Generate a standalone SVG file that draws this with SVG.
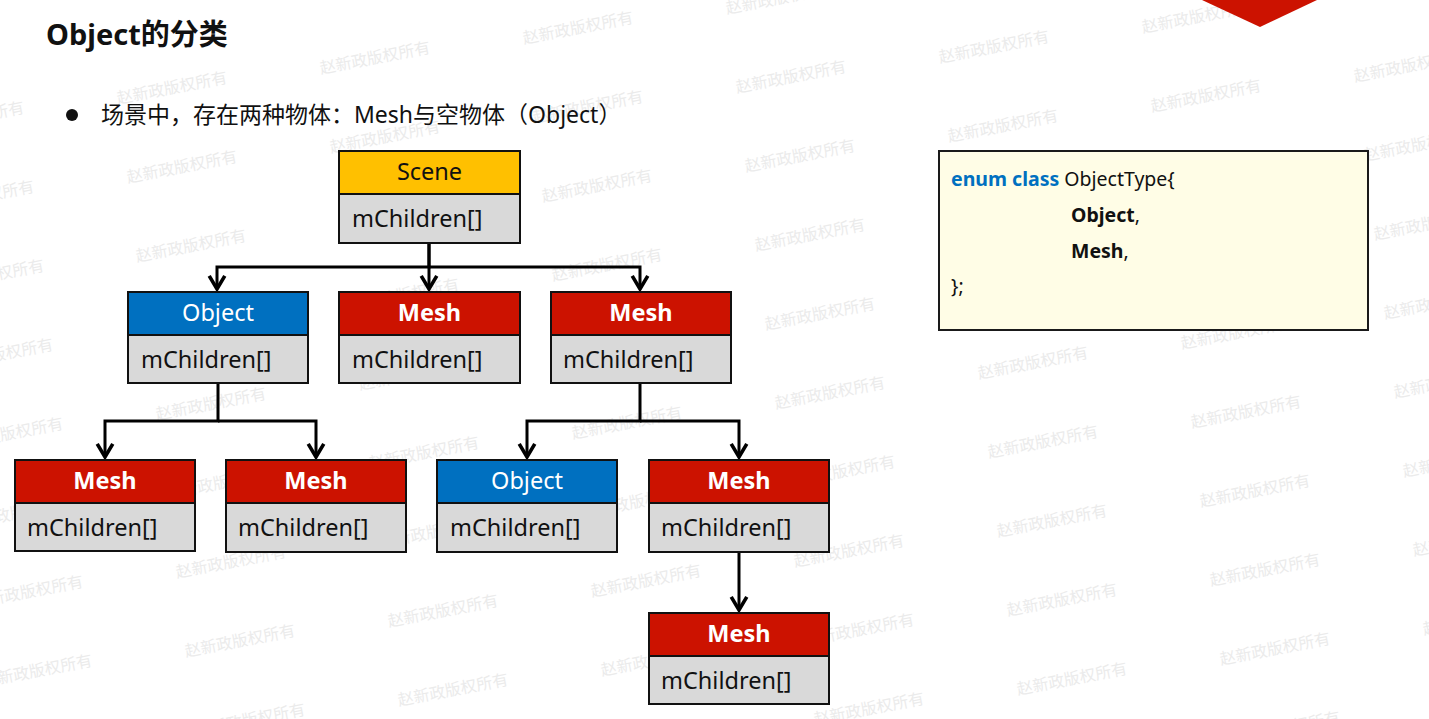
<svg xmlns="http://www.w3.org/2000/svg" width="1429" height="719" viewBox="0 0 1429 719">
<style>
text{font-family:"Noto Sans","Noto Sans CJK SC",sans-serif}
.wm{font-family:"Noto Sans CJK SC",sans-serif;font-size:16px;fill:#ebebeb}
.hd{stroke:#111;stroke-width:2}
.bd{fill:#d9d9d9;stroke:#111;stroke-width:2}
.sc{fill:#ffc000}.ob{fill:#0070c0}.me{fill:#cc1200}
.ht{font-size:23.5px;text-anchor:middle}
.htS{fill:#111}.htO{fill:#fff}.htM{fill:#fff;font-weight:bold}
.bt{font-size:23.5px;fill:#111}
.con{fill:none;stroke:#000;stroke-width:3;marker-end:url(#ah)}
.code{font-size:19.5px;fill:#111}
</style>
<defs>
<marker id="ah" markerUnits="userSpaceOnUse" markerWidth="24" markerHeight="24" viewBox="-14 -10 20 20" refX="0" refY="0" orient="auto" overflow="visible">
<path d="M-11,-6.5 L0,0 L-11,6.5" fill="none" stroke="#000" stroke-width="3"/>
</marker>
</defs>
<rect width="1429" height="719" fill="#fff"/>
<g id="watermarks">
<text class="wm" x="-85" y="134" transform="rotate(-11 -85 134)">赵新政版权所有</text>
<text class="wm" x="-75" y="213" transform="rotate(-11 -75 213)">赵新政版权所有</text>
<text class="wm" x="-65" y="292" transform="rotate(-11 -65 292)">赵新政版权所有</text>
<text class="wm" x="-56" y="371" transform="rotate(-11 -56 371)">赵新政版权所有</text>
<text class="wm" x="-46" y="450" transform="rotate(-11 -46 450)">赵新政版权所有</text>
<text class="wm" x="-36" y="529" transform="rotate(-11 -36 529)">赵新政版权所有</text>
<text class="wm" x="-26" y="608" transform="rotate(-11 -26 608)">赵新政版权所有</text>
<text class="wm" x="-17" y="687" transform="rotate(-11 -17 687)">赵新政版权所有</text>
<text class="wm" x="118" y="104" transform="rotate(-11 118 104)">赵新政版权所有</text>
<text class="wm" x="128" y="183" transform="rotate(-11 128 183)">赵新政版权所有</text>
<text class="wm" x="137" y="262" transform="rotate(-11 137 262)">赵新政版权所有</text>
<text class="wm" x="157" y="420" transform="rotate(-11 157 420)">赵新政版权所有</text>
<text class="wm" x="167" y="499" transform="rotate(-11 167 499)">赵新政版权所有</text>
<text class="wm" x="177" y="578" transform="rotate(-11 177 578)">赵新政版权所有</text>
<text class="wm" x="186" y="657" transform="rotate(-11 186 657)">赵新政版权所有</text>
<text class="wm" x="196" y="736" transform="rotate(-11 196 736)">赵新政版权所有</text>
<text class="wm" x="321" y="74" transform="rotate(-11 321 74)">赵新政版权所有</text>
<text class="wm" x="331" y="153" transform="rotate(-11 331 153)">赵新政版权所有</text>
<text class="wm" x="350" y="311" transform="rotate(-11 350 311)">赵新政版权所有</text>
<text class="wm" x="360" y="390" transform="rotate(-11 360 390)">赵新政版权所有</text>
<text class="wm" x="370" y="469" transform="rotate(-11 370 469)">赵新政版权所有</text>
<text class="wm" x="380" y="548" transform="rotate(-11 380 548)">赵新政版权所有</text>
<text class="wm" x="389" y="627" transform="rotate(-11 389 627)">赵新政版权所有</text>
<text class="wm" x="399" y="706" transform="rotate(-11 399 706)">赵新政版权所有</text>
<text class="wm" x="524" y="44" transform="rotate(-11 524 44)">赵新政版权所有</text>
<text class="wm" x="534" y="123" transform="rotate(-11 534 123)">赵新政版权所有</text>
<text class="wm" x="543" y="202" transform="rotate(-11 543 202)">赵新政版权所有</text>
<text class="wm" x="553" y="281" transform="rotate(-11 553 281)">赵新政版权所有</text>
<text class="wm" x="573" y="439" transform="rotate(-11 573 439)">赵新政版权所有</text>
<text class="wm" x="583" y="518" transform="rotate(-11 583 518)">赵新政版权所有</text>
<text class="wm" x="592" y="597" transform="rotate(-11 592 597)">赵新政版权所有</text>
<text class="wm" x="602" y="676" transform="rotate(-11 602 676)">赵新政版权所有</text>
<text class="wm" x="727" y="14" transform="rotate(-11 727 14)">赵新政版权所有</text>
<text class="wm" x="737" y="93" transform="rotate(-11 737 93)">赵新政版权所有</text>
<text class="wm" x="746" y="172" transform="rotate(-11 746 172)">赵新政版权所有</text>
<text class="wm" x="756" y="251" transform="rotate(-11 756 251)">赵新政版权所有</text>
<text class="wm" x="766" y="330" transform="rotate(-11 766 330)">赵新政版权所有</text>
<text class="wm" x="776" y="409" transform="rotate(-11 776 409)">赵新政版权所有</text>
<text class="wm" x="786" y="488" transform="rotate(-11 786 488)">赵新政版权所有</text>
<text class="wm" x="795" y="567" transform="rotate(-11 795 567)">赵新政版权所有</text>
<text class="wm" x="805" y="646" transform="rotate(-11 805 646)">赵新政版权所有</text>
<text class="wm" x="815" y="725" transform="rotate(-11 815 725)">赵新政版权所有</text>
<text class="wm" x="940" y="63" transform="rotate(-11 940 63)">赵新政版权所有</text>
<text class="wm" x="949" y="142" transform="rotate(-11 949 142)">赵新政版权所有</text>
<text class="wm" x="979" y="379" transform="rotate(-11 979 379)">赵新政版权所有</text>
<text class="wm" x="989" y="458" transform="rotate(-11 989 458)">赵新政版权所有</text>
<text class="wm" x="998" y="537" transform="rotate(-11 998 537)">赵新政版权所有</text>
<text class="wm" x="1008" y="616" transform="rotate(-11 1008 616)">赵新政版权所有</text>
<text class="wm" x="1018" y="695" transform="rotate(-11 1018 695)">赵新政版权所有</text>
<text class="wm" x="1143" y="33" transform="rotate(-11 1143 33)">赵新政版权所有</text>
<text class="wm" x="1152" y="112" transform="rotate(-11 1152 112)">赵新政版权所有</text>
<text class="wm" x="1182" y="349" transform="rotate(-11 1182 349)">赵新政版权所有</text>
<text class="wm" x="1192" y="428" transform="rotate(-11 1192 428)">赵新政版权所有</text>
<text class="wm" x="1201" y="507" transform="rotate(-11 1201 507)">赵新政版权所有</text>
<text class="wm" x="1211" y="586" transform="rotate(-11 1211 586)">赵新政版权所有</text>
<text class="wm" x="1221" y="665" transform="rotate(-11 1221 665)">赵新政版权所有</text>
<text class="wm" x="1231" y="744" transform="rotate(-11 1231 744)">赵新政版权所有</text>
<text class="wm" x="1355" y="82" transform="rotate(-11 1355 82)">赵新政版权所有</text>
<text class="wm" x="1365" y="161" transform="rotate(-11 1365 161)">赵新政版权所有</text>
<text class="wm" x="1375" y="240" transform="rotate(-11 1375 240)">赵新政版权所有</text>
<text class="wm" x="1385" y="319" transform="rotate(-11 1385 319)">赵新政版权所有</text>
<text class="wm" x="1395" y="398" transform="rotate(-11 1395 398)">赵新政版权所有</text>
<text class="wm" x="1404" y="477" transform="rotate(-11 1404 477)">赵新政版权所有</text>
<text class="wm" x="1414" y="556" transform="rotate(-11 1414 556)">赵新政版权所有</text>
<text class="wm" x="1424" y="635" transform="rotate(-11 1424 635)">赵新政版权所有</text>
</g>
<polygon id="corner" points="1202,0 1317,0 1260,27" fill="#cc1200"/>
<g id="title">
<text x="46" y="45" font-size="29" font-weight="bold" fill="#111">Object的分类</text>
</g>
<g id="bullet">
<circle cx="72" cy="115" r="6" fill="#111"/>
<text x="101" y="123" font-size="23" fill="#111">场景中，存在两种物体：Mesh与空物体（Object）</text>
</g>
<g id="connectors">
<path class="con" d="M429,243 V267 H217 V289"/>
<path class="con" d="M429,243 V289"/>
<path class="con" d="M429,267 H640 V289"/>
<path class="con" d="M218,384 V421 H105 V457"/>
<path class="con" d="M218,421 H316 V457"/>
<path class="con" d="M640,384 V421 H527 V457"/>
<path class="con" d="M640,421 H739 V457"/>
<path class="con" d="M739,553 V610"/>
</g>
<g id="scene">
<rect class="hd sc" x="339" y="151" width="181" height="43"/>
<rect class="bd" x="339" y="194" width="181" height="49"/>
<text class="ht htS" x="429.5" y="180">Scene</text>
<text class="bt" x="352" y="227">mChildren[]</text>
</g>
<g id="object1">
<rect class="hd ob" x="128" y="292" width="180" height="43"/>
<rect class="bd" x="128" y="335" width="180" height="48"/>
<text class="ht htO" x="218" y="321">Object</text>
<text class="bt" x="141" y="368">mChildren[]</text>
</g>
<g id="mesh1">
<rect class="hd me" x="339" y="292" width="181" height="43"/>
<rect class="bd" x="339" y="335" width="181" height="48"/>
<text class="ht htM" x="429.5" y="321">Mesh</text>
<text class="bt" x="352" y="368">mChildren[]</text>
</g>
<g id="mesh2">
<rect class="hd me" x="551" y="292" width="180" height="43"/>
<rect class="bd" x="551" y="335" width="180" height="48"/>
<text class="ht htM" x="641" y="321">Mesh</text>
<text class="bt" x="563" y="368">mChildren[]</text>
</g>
<g id="mesh3">
<rect class="hd me" x="15" y="460" width="180" height="43"/>
<rect class="bd" x="15" y="503" width="180" height="48"/>
<text class="ht htM" x="105" y="489">Mesh</text>
<text class="bt" x="27" y="536">mChildren[]</text>
</g>
<g id="mesh4">
<rect class="hd me" x="226" y="460" width="180" height="43"/>
<rect class="bd" x="226" y="503" width="180" height="49"/>
<text class="ht htM" x="316" y="489">Mesh</text>
<text class="bt" x="238" y="536">mChildren[]</text>
</g>
<g id="object2">
<rect class="hd ob" x="437" y="460" width="180" height="43"/>
<rect class="bd" x="437" y="503" width="180" height="49"/>
<text class="ht htO" x="527" y="489">Object</text>
<text class="bt" x="450" y="536">mChildren[]</text>
</g>
<g id="mesh5">
<rect class="hd me" x="649" y="460" width="180" height="43"/>
<rect class="bd" x="649" y="503" width="180" height="49"/>
<text class="ht htM" x="739" y="489">Mesh</text>
<text class="bt" x="661" y="536">mChildren[]</text>
</g>
<g id="mesh6">
<rect class="hd me" x="649" y="613" width="180" height="43"/>
<rect class="bd" x="649" y="656" width="180" height="48"/>
<text class="ht htM" x="739" y="642">Mesh</text>
<text class="bt" x="661" y="689">mChildren[]</text>
</g>
<g id="codebox">
<rect x="939" y="151" width="429" height="179" fill="#fffde6" stroke="#1a1a1a" stroke-width="2"/>
<text class="code" x="951" y="186"><tspan font-weight="bold" fill="#0070c0">enum class</tspan> ObjectType{</text>
<text class="code" x="1071" y="222"><tspan font-weight="bold">Object</tspan>,</text>
<text class="code" x="1071" y="258"><tspan font-weight="bold">Mesh</tspan>,</text>
<text class="code" x="951" y="293">};</text>
</g>
</svg>
